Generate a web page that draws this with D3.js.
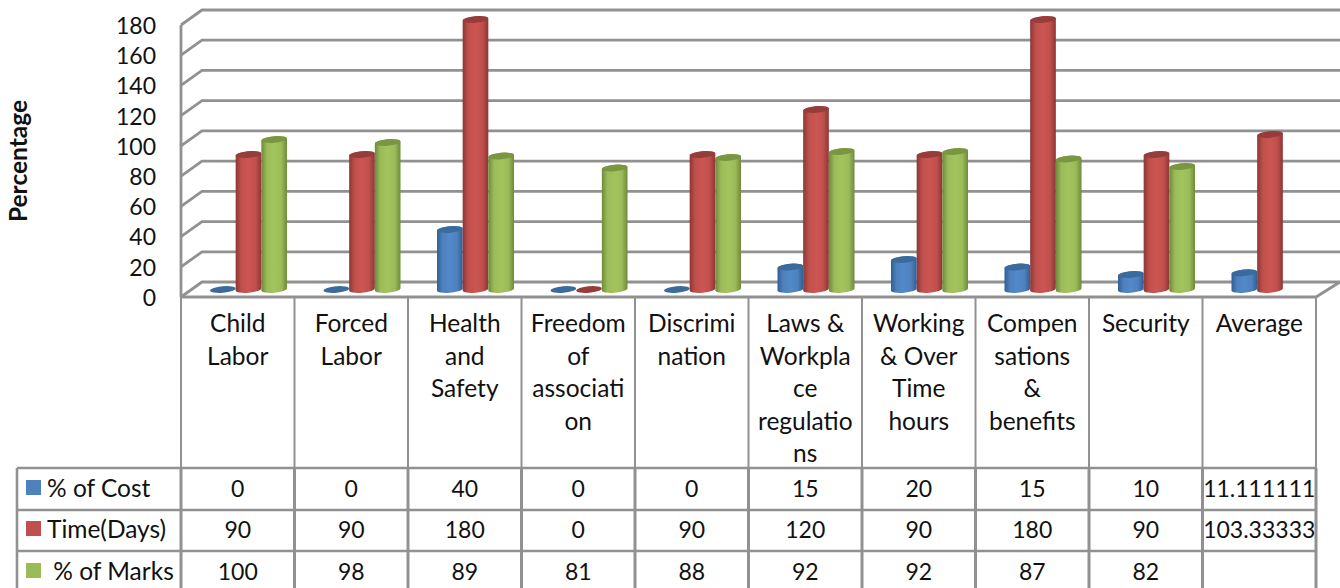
<!DOCTYPE html>
<html>
<head>
<meta charset="utf-8">
<script src="https://cdn.jsdelivr.net/npm/d3@7"></script>
<style>
  html, body { margin: 0; padding: 0; background: #fff; overflow: hidden; }
  svg { display: block; }
  text { font-family: Lato, "Open Sans", sans-serif; fill: #111; }
</style>
</head>
<body>
<svg width="1340" height="588"></svg>
<script>
var categories = ["Child Labor", "Forced Labor", "Health and Safety", "Freedom of association",
  "Discrimination", "Laws & Workplace regulations", "Working & Over Time hours",
  "Compensations & benefits", "Security", "Average"];

// wrapped the same way the table in the picture wraps them
var categoryLines = [
  ["Child", "Labor"],
  ["Forced", "Labor"],
  ["Health", "and", "Safety"],
  ["Freedom", "of", "associati", "on"],
  ["Discrimi", "nation"],
  ["Laws &", "Workpla", "ce", "regulatio", "ns"],
  ["Working", "& Over", "Time", "hours"],
  ["Compen", "sations", "&", "benefits"],
  ["Security"],
  ["Average"]
];

var seriesNames = ["% of Cost", "Time(Days)", " % of Marks"];
var cost = [0, 0, 40, 0, 0, 15, 20, 15, 10, 11.111111];
var time = [90, 90, 180, 0, 90, 120, 90, 180, 90, 103.33333];
var marks = [100, 98, 89, 81, 88, 92, 92, 87, 82, null];
var yTicks = [0, 20, 40, 60, 80, 100, 120, 140, 160, 180];

var seriesValues = [cost, time, marks];
var base = ["#4F81BD", "#C0504D", "#9BBB59"];
var lite = ["#5289C9", "#CC5552", "#A2C45D"];
var dark = ["#2E5F95", "#8C3634", "#6E8A3A"];
var cap = ["#3B6A9C", "#943C3A", "#7A963F"];
var gridColor = "#919191";

var svg = d3.select("svg");

// the box: front edge, back wall, and the table below
var yFront = d3.scaleLinear().domain([0, 180]).range([297, 25]);
var yBack = d3.scaleLinear().domain([0, 180]).range([282, 10]);
var yBar = d3.scaleLinear().domain([0, 180]).range([289.5, 19.5]);
var x = d3.scaleBand().domain(categories).range([181, 1316]);
var xSeries = d3.scaleBand().domain(seriesNames).range([29, 106]);

var backLeft = 202, backRight = 1340;
var rowY = [468, 510, 551];
var tableLeft = 17, bottom = 588;

// gradients for the cylinder sides
var defs = svg.append("defs");
base.forEach(function(c, i) {
  var g = defs.append("linearGradient").attr("id", "side" + i);
  g.append("stop").attr("offset", "0%").attr("stop-color", dark[i]);
  g.append("stop").attr("offset", "22%").attr("stop-color", base[i]);
  g.append("stop").attr("offset", "50%").attr("stop-color", lite[i]);
  g.append("stop").attr("offset", "78%").attr("stop-color", base[i]);
  g.append("stop").attr("offset", "100%").attr("stop-color", dark[i]);
});
var soft = defs.append("filter").attr("id", "soft");
soft.append("feGaussianBlur").attr("stdDeviation", 0.45);

// walls
var grid = svg.append("g").attr("stroke", gridColor).attr("fill", "none").attr("filter", "url(#soft)");

grid.selectAll(".wall")
  .data(yTicks)
  .enter().append("path")
  .attr("class", "wall")
  .attr("stroke-width", 2.8)
  .attr("d", function(d) {
    return "M181," + yFront(d) + "L" + backLeft + "," + yBack(d) + "L" + backRight + "," + yBack(d);
  });

grid.append("line").attr("stroke-width", 2.8)
  .attr("x1", 181).attr("x2", 181).attr("y1", yFront(180)).attr("y2", yFront(0));
grid.append("path").attr("stroke-width", 2.8)
  .attr("d", "M181," + yFront(0) + "L1316," + yFront(0) + "L" + backRight + "," + yBack(0));

// table
var edges = x.domain().map(function(d) { return x(d); }).concat([1316]);
var table = svg.append("g").attr("stroke", gridColor).attr("fill", "none").attr("filter", "url(#soft)");

table.selectAll(".col")
  .data(edges)
  .enter().append("line")
  .attr("class", "col")
  .attr("x1", function(d) { return d; }).attr("x2", function(d) { return d; })
  .attr("y1", yFront(0)).attr("y2", rowY[0])
  .attr("stroke-width", 2);

table.selectAll(".colLow")
  .data(edges)
  .enter().append("line")
  .attr("class", "colLow")
  .attr("x1", function(d) { return d; }).attr("x2", function(d) { return d; })
  .attr("y1", rowY[0]).attr("y2", bottom)
  .attr("stroke-width", 3);

table.selectAll(".row")
  .data(rowY)
  .enter().append("line")
  .attr("class", "row")
  .attr("x1", tableLeft).attr("x2", 1316)
  .attr("y1", function(d) { return d; }).attr("y2", function(d) { return d; })
  .attr("stroke-width", 2.6);

table.append("line").attr("stroke-width", 2.6)
  .attr("x1", tableLeft).attr("x2", tableLeft).attr("y1", rowY[0]).attr("y2", bottom);

// cylinders, one series after the other so later ones sit on top
var rx = 12.8, ry = 3.3, tilt = 1.1;

function cylinder(d) {
  var xl = d.x, xr = d.x + d.w;
  var yt = yBar(d.value), yb = yBar(0);
  var arc = "A" + rx + "," + ry + " -5 0 0 ";
  return "M" + xl + "," + (yt + tilt) + "L" + xl + "," + (yb + tilt) + arc + xr + "," + (yb - tilt)
    + "L" + xr + "," + (yt - tilt) + arc + xl + "," + (yt + tilt) + "Z";
}

var bars = svg.append("g").attr("filter", "url(#soft)");

seriesNames.forEach(function(name, s) {
  var rows = categories.map(function(c, i) {
    return { cat: c, value: seriesValues[s][i], x: x(c) + xSeries(name), w: xSeries.bandwidth() };
  }).filter(function(d) { return d.value !== null; });

  bars.selectAll(".side" + s)
    .data(rows.filter(function(d) { return d.value > 0; }))
    .enter().append("path")
    .attr("class", "side" + s)
    .attr("d", cylinder)
    .attr("fill", "url(#side" + s + ")");

  bars.selectAll(".cap" + s)
    .data(rows)
    .enter().append("ellipse")
    .attr("class", "cap" + s)
    .attr("rx", rx).attr("ry", ry)
    .attr("transform", function(d) {
      return "translate(" + (d.x + d.w / 2) + "," + yBar(d.value) + ") rotate(-5)";
    })
    .attr("fill", cap[s]);
});

// value axis
var axis = d3.axisLeft(yFront).tickValues(yTicks).tickSize(0).tickPadding(0);
var axisG = svg.append("g")
  .attr("transform", "translate(156,1)")
  .call(axis);
axisG.select(".domain").remove();
axisG.selectAll("text")
  .style("font-family", "Lato, sans-serif")
  .style("font-size", "23px")
  .style("fill", "#111");

svg.append("text")
  .attr("transform", "translate(27,161) rotate(-90)")
  .attr("text-anchor", "middle")
  .style("font-size", "24.5px")
  .style("font-weight", "bold")
  .text("Percentage");

// category labels in the tall header cells
var lineStep = 32.5;
var headers = svg.selectAll(".header")
  .data(categories)
  .enter().append("g")
  .attr("class", "header")
  .attr("transform", function(d) { return "translate(" + (x(d) + x.bandwidth() / 2) + ",332)"; });

headers.selectAll("text")
  .data(function(d, i) { return categoryLines[i]; })
  .enter().append("text")
  .attr("text-anchor", "middle")
  .attr("y", function(d, i) { return i * lineStep; })
  .style("font-size", "24.5px")
  .text(function(d) { return d; });

// table rows
var rowCentre = [489, 530, 572];

seriesNames.forEach(function(name, s) {
  svg.append("rect")
    .attr("x", 26).attr("y", rowCentre[s] - 9)
    .attr("width", 15).attr("height", 15)
    .attr("fill", base[s]);

  svg.append("text")
    .attr("x", 47).attr("y", rowCentre[s] + 8)
    .attr("xml:space", "preserve")
    .style("white-space", "pre")
    .style("font-size", "24.5px")
    .text(name);

  svg.selectAll(".val" + s)
    .data(categories)
    .enter().append("text")
    .attr("class", "val" + s)
    .attr("x", function(d) { return x(d) + x.bandwidth() / 2; })
    .attr("y", rowCentre[s] + 8)
    .attr("text-anchor", "middle")
    .style("font-size", "23px")
    .text(function(d, i) { return seriesValues[s][i] === null ? "" : String(seriesValues[s][i]); });
});
</script>
</body>
</html>
